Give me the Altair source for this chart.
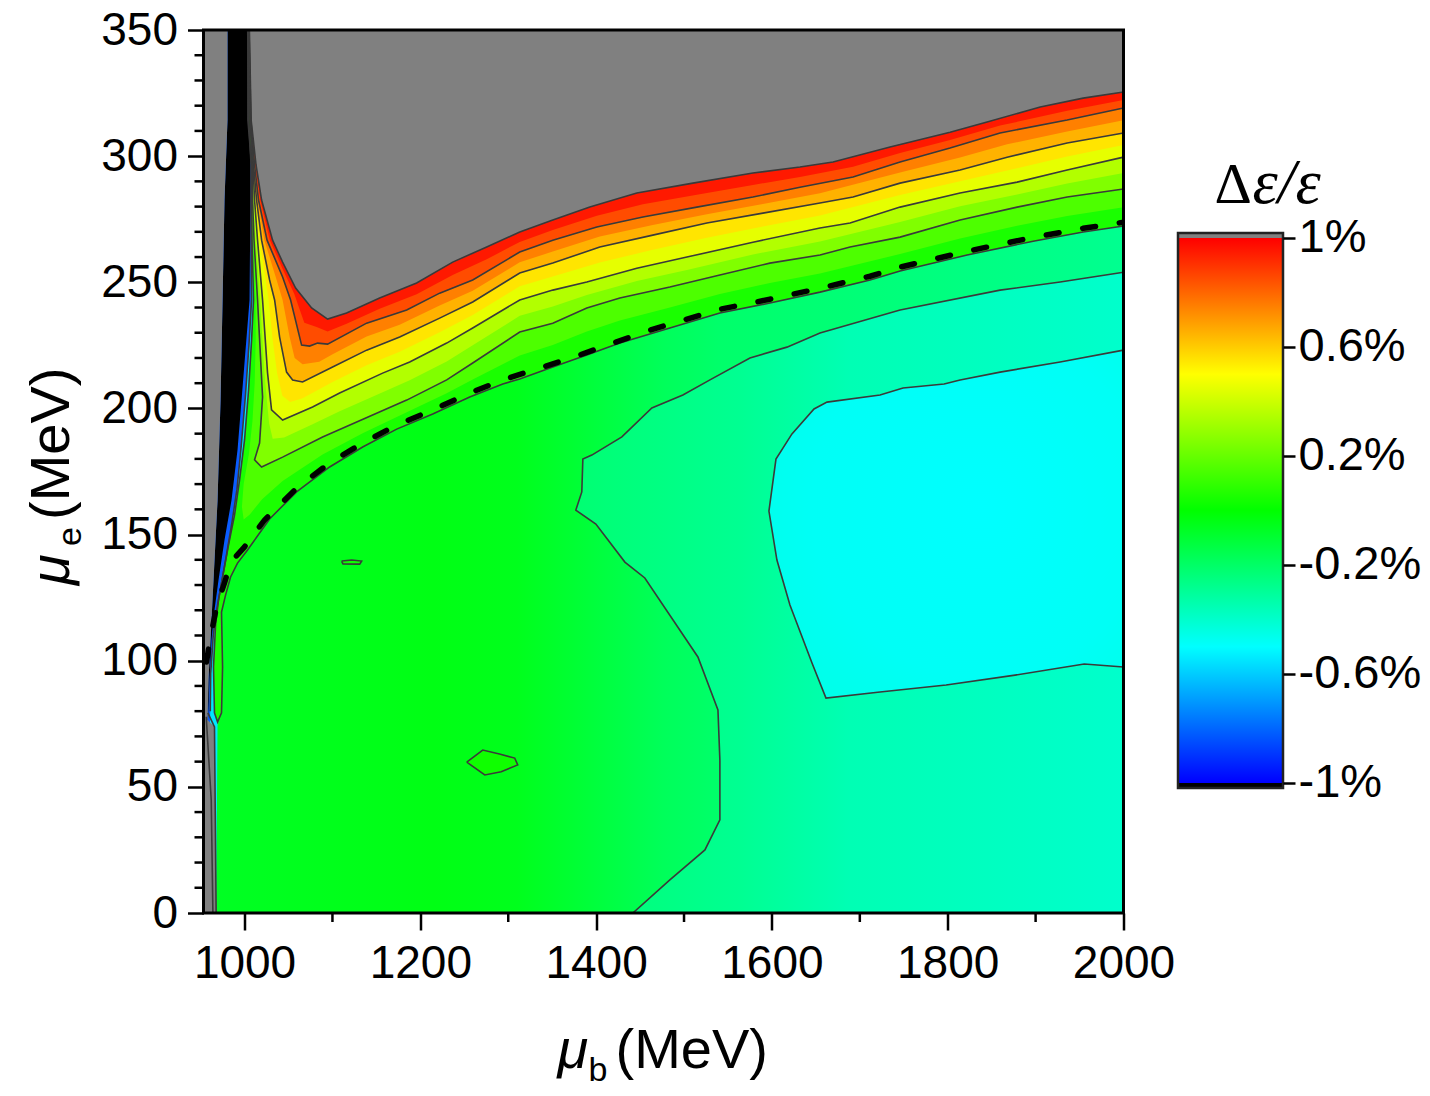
import altair as alt
import pandas as pd

# ---------------------------------------------------------------- axes
MB_RANGE = [953.3, 2000.0]          # mu_b (MeV)
ME_RANGE = [0.0, 350.0]             # mu_e (MeV)
MB_TICKS = [1000, 1200, 1400, 1600, 1800, 2000]
MB_MINOR = [1100, 1300, 1500, 1700, 1900]
ME_TICKS = [0, 50, 100, 150, 200, 250, 300, 350]
ME_MINOR = [10, 20, 30, 40, 60, 70, 80, 90, 110, 120, 130, 140, 160, 170, 180,
            190, 210, 220, 230, 240, 260, 270, 280, 290, 310, 320, 330, 340]
CB_TICKS = [-1.0, -0.6, -0.2, 0.2, 0.6, 1.0]   # colour-bar ticks, Δε/ε in %

# colour map of Δε/ε (%)
CMAP_LEVELS = [-1.0, -0.5, 0.0, 0.5, 1.0]
CMAP_COLORS = ["#0000ff", "#00ffff", "#00ff00", "#ffff00", "#ff0000"]
ABOVE_COLOR = "#808080"    # Δε/ε > 1 %
BELOW_COLOR = "#000000"    # Δε/ε < -1 %

# ---------------------------------------------------------------- contours
# each level traced from the top of the plot, down its left branch and out to mu_b = 2000
lvl_100_mb = [1005.5, 1007.5, 1013.1, 1019.4, 1031.9, 1043.3, 1058.1, 1076.3, 1094.5, 1116.1, 1153.7, 1195.8, 1236.8, 1275.5,
              1313.1, 1350.7, 1392.8, 1446.3, 1510.1, 1578.4, 1631.9, 1669.5, 1734.4, 1802.7, 1844.8, 1905.2, 1954.1, 2000.0]
lvl_100_me = [350.0, 314.3, 296.5, 282.6, 266.7, 258.0, 247.7, 239.8, 235.4, 237.8, 243.8, 249.7, 258.0, 264.0,
              269.9, 274.7, 279.8, 285.4, 289.3, 293.3, 295.7, 297.7, 303.6, 309.5, 313.5, 319.5, 323.0, 325.4]

lvl_090_mb = [1005.3, 1007.4, 1012.3, 1017.7, 1028.8, 1043.7, 1056.5, 1068.0, 1082.0, 1094.5, 1116.1, 1153.7, 1195.8, 1236.8,
              1275.5, 1313.1, 1350.7, 1400.8, 1453.2, 1514.6, 1578.4, 1631.9, 1692.3, 1745.8, 1802.7, 1859.6, 1935.9, 2000.0]
lvl_090_me = [350.0, 314.3, 296.5, 282.6, 266.7, 255.0, 245.5, 234.0, 232.3, 230.5, 233.6, 239.5, 245.3, 252.9,
              259.1, 266.0, 270.7, 276.4, 280.9, 284.7, 288.6, 291.7, 295.8, 301.2, 306.4, 312.1, 318.0, 322.3]

lvl_080_mb = [1005.1, 1007.2, 1011.4, 1015.9, 1025.6, 1043.3, 1052.4, 1064.9, 1074.0, 1083.1, 1094.5, 1138.9, 1184.5, 1222.0,
              1259.6, 1313.1, 1350.7, 1400.8, 1453.2, 1514.6, 1578.4, 1631.9, 1692.3, 1745.8, 1802.7, 1859.6, 1935.9, 2000.0]
lvl_080_me = [350.0, 314.3, 296.5, 282.6, 266.7, 252.1, 243.0, 225.1, 224.7, 225.9, 225.5, 233.8, 239.0, 245.7,
              250.9, 262.0, 266.7, 271.9, 275.9, 279.8, 283.8, 287.7, 291.7, 297.7, 303.2, 309.2, 314.3, 319.1]

lvl_070_mb = [1004.9, 1007.0, 1010.8, 1014.8, 1022.5, 1036.5, 1043.3, 1051.3, 1057.0, 1066.0, 1085.0, 1100.2, 1138.9, 1176.5,
              1222.0, 1259.6, 1313.1, 1350.7, 1404.2, 1464.5, 1526.0, 1589.8, 1654.7, 1745.8, 1814.1, 1867.6, 1935.9, 2000.0]
lvl_070_me = [350.0, 314.3, 296.5, 282.6, 266.7, 250.9, 243.0, 228.3, 220.0, 217.5, 218.5, 221.5, 228.5, 233.2,
              240.8, 246.6, 257.9, 262.2, 268.1, 272.7, 277.0, 281.0, 285.3, 293.5, 299.5, 304.7, 309.8, 314.2]

lvl_060_mb = [1004.8, 1006.9, 1010.2, 1013.7, 1019.4, 1028.5, 1034.2, 1039.9, 1047.8, 1054.7, 1066.0, 1100.2, 1138.9, 1176.5,
              1222.0, 1259.6, 1313.1, 1350.7, 1404.2, 1464.5, 1526.0, 1589.8, 1654.7, 1692.3, 1745.8, 1814.1, 1867.6, 1935.9, 2000.0]
lvl_060_me = [350.0, 314.3, 296.5, 282.6, 266.7, 250.9, 243.0, 228.3, 214.4, 211.3, 210.5, 216.4, 223.1, 228.3,
              235.8, 242.2, 253.7, 257.6, 264.0, 268.7, 273.5, 277.4, 281.4, 283.8, 289.3, 294.5, 299.6, 305.2, 309.2]

lvl_050_mb = [1004.6, 1006.8, 1010.0, 1012.5, 1017.1, 1027.4, 1031.6, 1037.0, 1043.0, 1052.0, 1066.0, 1100.2, 1138.9, 1176.5,
              1222.0, 1259.6, 1313.1, 1350.7, 1404.2, 1464.5, 1526.0, 1589.8, 1654.7, 1745.8, 1814.1, 1867.6, 1935.9, 2000.0]
lvl_050_me = [350.0, 314.3, 296.5, 282.6, 266.7, 243.0, 228.3, 214.0, 205.0, 202.5, 204.0, 210.5, 217.1, 222.5,
              230.2, 237.0, 248.4, 252.3, 257.8, 262.9, 267.7, 272.1, 276.5, 284.6, 290.0, 294.3, 299.9, 304.4]

lvl_040_mb = [1004.4, 1006.6, 1009.6, 1011.4, 1014.8, 1020.5, 1026.2, 1030.7, 1043.3, 1077.4, 1108.2, 1157.1, 1187.9, 1230.0,
              1259.6, 1313.1, 1350.7, 1389.4, 1446.3, 1503.3, 1578.4, 1654.7, 1688.9, 1745.8, 1814.1, 1879.0, 1935.9, 2000.0]
lvl_040_me = [350.0, 314.3, 296.5, 282.6, 266.7, 243.0, 214.0, 199.4, 195.4, 200.6, 206.1, 214.0, 218.4, 225.9,
              231.9, 243.0, 246.9, 250.1, 255.6, 260.0, 265.9, 271.5, 273.5, 279.8, 285.4, 289.7, 294.5, 299.6]

lvl_030_mb = [1004.3, 1006.5, 1009.2, 1010.2, 1012.8, 1017.7, 1022.6, 1025.5, 1028.0, 1032.0, 1045.0, 1077.4, 1108.2, 1157.1,
              1187.9, 1230.0, 1259.6, 1313.1, 1350.7, 1389.4, 1446.3, 1503.3, 1578.4, 1654.7, 1745.8, 1814.1, 1879.0, 1935.9, 2000.0]
lvl_030_me = [350.0, 314.3, 296.5, 282.6, 266.7, 243.0, 214.0, 203.0, 194.0, 188.0, 188.5, 193.7, 198.9, 206.4,
              211.2, 218.6, 225.0, 236.7, 240.4, 245.0, 250.5, 254.9, 261.0, 266.2, 273.9, 280.1, 284.8, 289.2, 293.3]

lvl_020_mb = [1004.1, 1006.3, 1008.8, 1009.1, 1010.8, 1014.8, 1020.5, 1017.1, 1011.4, 1019.4, 1043.3, 1088.8, 1145.7, 1184.5,
              1230.0, 1259.6, 1313.1, 1350.7, 1389.4, 1427.0, 1483.9, 1540.8, 1597.7, 1654.7, 1688.9, 1745.8, 1814.1, 1879.0,
              1935.9, 2000.0]
lvl_020_me = [350.0, 314.3, 296.5, 282.6, 266.7, 243.0, 204.5, 186.3, 179.6, 176.8, 180.7, 188.7, 197.4, 203.3,
              211.3, 218.0, 230.3, 233.8, 239.8, 243.8, 248.1, 252.9, 257.6, 260.8, 264.0, 267.9, 274.7, 279.8,
              283.8, 287.0]

lvl_010_mb = [1004.0, 1005.0, 1008.4, 1008.6, 1009.6, 1012.5, 1012.7, 1011.5, 1009.0, 1005.0, 999.0, 997.0, 999.0, 1006.0,
              1020.0, 1043.3, 1088.8, 1134.4, 1184.5, 1230.0, 1259.6, 1313.1, 1350.7, 1389.4, 1427.0, 1483.9, 1540.8,
              1597.7, 1654.7, 1745.8, 1814.1, 1879.0, 1935.9, 2000.0]
lvl_010_me = [350.0, 314.3, 296.5, 282.6, 266.7, 243.0, 227.0, 210.0, 195.0, 182.0, 170.0, 161.0, 156.0, 158.0,
              164.0, 171.2, 181.7, 190.2, 198.5, 206.0, 211.5, 221.0, 225.1, 230.5, 234.9, 240.0, 245.4,
              249.7, 253.5, 261.2, 267.4, 272.4, 276.3, 279.7]

lvl_000_mb = [1003.8, 1003.8, 1008.0, 1008.0, 1008.5, 1010.2, 1008.0, 1004.6, 1000.0, 994.3, 988.6, 981.8, 976.1, 970.4,
              967.0, 964.7, 965.8, 969.3, 973.8, 975.0, 973.8, 978.4, 984.1, 992.0, 1003.4, 1028.5, 1059.2, 1096.8,
              1134.4, 1173.1, 1214.1, 1256.2, 1293.8, 1313.1, 1350.7, 1389.4, 1427.0, 1483.9, 1540.8, 1597.7, 1654.7,
              1711.6, 1745.8, 1822.1, 1897.2, 1954.1, 2000.0]
lvl_000_me = [350.0, 314.3, 296.5, 282.6, 266.7, 243.0, 227.1, 207.3, 187.5, 171.6, 157.7, 145.9, 135.2, 124.1,
              114.1, 97.5, 79.3, 75.7, 79.3, 97.5, 119.3, 126.0, 133.2, 138.7, 143.9, 156.2, 166.9, 176.8,
              184.7, 191.8, 197.8, 204.5, 209.7, 211.7, 216.4, 221.2, 225.9, 231.9, 237.8, 241.8, 246.1,
              250.9, 254.5, 260.8, 266.3, 269.9, 272.3]

# Δε/ε = -0.5 % line inside the narrow band next to the black strip
lvl_m050_mb = [1003.6, 1004.8, 1007.4, 1007.4, 1007.4, 1008.0, 1005.0, 1001.0, 996.2, 991.4, 985.8, 979.5, 973.9,
               968.2, 964.4, 961.5, 961.0]
lvl_m050_me = [350.0, 314.3, 296.5, 282.6, 266.7, 243.0, 225.0, 205.0, 185.0, 168.0, 155.0, 142.0, 131.0,
               120.0, 110.0, 95.0, 80.0]

# small closed Δε/ε = 0 islands inside the green plain
isl_a_mb = [1110.4, 1122.0, 1133.2, 1131.0, 1112.0, 1110.4]
isl_a_me = [139.5, 139.9, 139.5, 138.3, 138.4, 139.5]
isl_b_mb = [1252.8, 1271.0, 1290.0, 1307.4, 1310.8, 1292.0, 1273.3, 1252.8]
isl_b_me = [59.8, 64.6, 63.0, 61.4, 58.7, 56.0, 54.7, 59.8]

# negative levels on the right-hand side
neg020_mb = [1441.8, 1483.9, 1523.8, 1540.8, 1540.8, 1538.6, 1515.8, 1455.4, 1432.7, 1399.7, 1376.9, 1383.7, 1384.9,
             1395.1, 1429.3, 1463.4, 1498.7, 1529.5, 1575.0, 1617.1, 1654.7, 1745.8, 1859.6, 1927.9, 2000.0]
neg020_me = [0.0, 13.1, 25.0, 36.9, 60.6, 80.5, 101.5, 132.8, 139.1, 154.2, 159.7, 166.9, 179.9,
             181.5, 188.7, 200.2, 205.3, 211.3, 220.0, 224.3, 229.9, 239.0, 246.9, 250.1, 254.0]
neg040_mb = [2000.0, 1927.9, 1859.6, 1814.1, 1795.9, 1749.2, 1723.0, 1662.7, 1647.9, 1622.8, 1604.6, 1596.6, 1605.7,
             1620.5, 1645.6, 1661.5, 1723.0, 1798.2, 1876.7, 1955.3, 2000.0]
neg040_me = [223.1, 218.4, 214.4, 211.3, 209.7, 208.1, 205.3, 202.5, 199.8, 189.9, 179.9, 159.3, 139.9,
             122.1, 99.1, 85.2, 87.6, 90.4, 94.3, 98.7, 97.5]

# strip of Δε/ε < -1 % near mu_b ≈ 1000 MeV (left edge, then right edge bottom-up)
black_mb = [980.6, 980.6, 977.2, 975.0, 972.7, 969.3, 964.7, 962.4, 959.0, 957.9, 958.4, 960.1, 962.4, 965.8, 970.4,
            977.2, 985.2, 992.0, 996.6, 1001.1, 1005.7, 1006.3, 1006.8, 1006.8, 1005.7, 1003.4]
black_me = [350.0, 314.3, 282.6, 243.0, 203.3, 163.7, 132.0, 116.1, 92.3, 76.5, 76.5, 92.3, 108.2, 120.1, 132.0,
            147.8, 163.7, 183.5, 203.3, 223.1, 243.0, 266.7, 282.6, 296.5, 314.3, 350.0]
# right edge of the Δε/ε > 1 % strip along the left border, top-down
gray_left_mb = [980.6, 980.6, 977.2, 975.0, 972.7, 969.3, 964.7, 962.4, 959.0, 957.9, 965.8, 967.7]
gray_left_me = [350.0, 314.3, 282.6, 243.0, 203.3, 163.7, 132.0, 116.1, 92.3, 76.5, 73.8, 0.0]
# contour lines running into the bottom axis
edge_a_mb = [958.3, 965.8, 967.7]
edge_a_me = [79.3, 73.8, 0.0]
edge_b_mb = [956.4, 962.1, 964.0]
edge_b_me = [77.8, 44.8, 0.0]

# dashed boundary curve
dash_mb = [956.7, 960.1, 965.8, 969.3, 977.2, 980.6, 988.6, 1000.0, 1022.8, 1034.2, 1059.2, 1096.8, 1134.4, 1173.1,
           1214.1, 1256.2, 1293.8, 1335.9, 1378.0, 1419.0, 1461.1, 1483.9, 1540.8, 1597.7, 1654.7, 1711.6, 1745.8,
           1822.1, 1897.2, 1954.1, 2000.0]
dash_me = [99.5, 107.0, 117.3, 122.9, 130.8, 134.8, 140.7, 145.1, 155.8, 159.7, 168.4, 178.4, 186.3, 193.4,
           199.4, 206.1, 211.3, 216.0, 220.8, 225.9, 231.0, 233.4, 239.3, 243.3, 247.6, 252.4, 256.0,
           262.3, 267.8, 271.4, 273.8]

# ---------------------------------------------------------------- helpers
W, H = 920, 883
FONT = "Liberation Sans"
LINE = "#3a3a3a"

x_scale = alt.Scale(domain=MB_RANGE, nice=False, zero=False)
y_scale = alt.Scale(domain=ME_RANGE, nice=False, zero=False)


def hex_mix(c1, c2, t):
    a = [int(c1[i:i + 2], 16) for i in (1, 3, 5)]
    b = [int(c2[i:i + 2], 16) for i in (1, 3, 5)]
    return "#" + "".join(f"{round(p + (q - p) * t):02x}" for p, q in zip(a, b))


def cmap(v):
    for k in range(len(CMAP_LEVELS) - 1):
        lo, hi = CMAP_LEVELS[k], CMAP_LEVELS[k + 1]
        if lo <= v <= hi:
            return hex_mix(CMAP_COLORS[k], CMAP_COLORS[k + 1], (v - lo) / (hi - lo))
    return CMAP_COLORS[-1] if v > 0 else CMAP_COLORS[0]


def path_df(mb, me, extra=()):
    xs = list(mb) + [p[0] for p in extra]
    ys = list(me) + [p[1] for p in extra]
    return pd.DataFrame({"mb": xs, "me": ys, "i": list(range(len(xs)))})


def enc(ch):
    return ch.encode(
        x=alt.X("mb:Q", scale=x_scale, title=None),
        y=alt.Y("me:Q", scale=y_scale, title=None),
        order="i:Q",
    )


def polygon(df, fill):
    return enc(alt.Chart(df).mark_line(fill=fill, strokeOpacity=0, interpolate="linear", clip=True))


def contour(df, width=1.6, color=LINE, dash=None):
    kw = dict(color=color, strokeWidth=width, interpolate="linear", clip=True)
    if dash:
        kw.update(strokeDash=dash, strokeCap="round")
    return enc(alt.Chart(df).mark_line(**kw))


def grad(stops, horizontal=True):
    return alt.LinearGradient(
        gradient="linear",
        stops=[alt.GradientStop(color=c, offset=o) for o, c in stops],
        x1=0, y1=1 if not horizontal else 0, x2=1 if horizontal else 0, y2=0,
    )


TOP_RIGHT = [(MB_RANGE[1], ME_RANGE[1])]

# ---------------------------------------------------------------- field
base = alt.Chart(pd.DataFrame({"mb": [MB_RANGE[0]], "mb2": [MB_RANGE[1]],
                               "me": [ME_RANGE[0]], "me2": [ME_RANGE[1]]})).mark_rect(
    fill=grad([(0.0, "#00ff24"), (0.25, "#00ff14"), (0.34, "#00ff1c"), (0.40, "#00ff32"),
               (0.50, "#00ff5a"), (0.56, "#00ff6a"), (1.0, "#00ff90")])
).encode(
    x=alt.X("mb:Q", scale=x_scale, title=None,
            axis=alt.Axis(values=MB_TICKS, format="d", tickSize=17, tickWidth=2.5, tickColor="black",
                          labelFont=FONT, labelFontSize=46, labelColor="black", labelPadding=11,
                          labelFlush=False, labelOverlap=False, domain=False, grid=False, zindex=3)),
    x2="mb2:Q",
    y=alt.Y("me:Q", scale=y_scale, title=None,
            axis=alt.Axis(values=ME_TICKS, format="d", tickSize=16, tickWidth=2.5, tickColor="black",
                          labelFont=FONT, labelFontSize=46, labelColor="black", labelPadding=10,
                          labelFlush=False, labelOverlap=False, domain=False, grid=False, zindex=3)),
    y2="me2:Q",
)

layers = [base]
layers.append(polygon(path_df(neg020_mb, neg020_me, [(MB_RANGE[1], 0.0)]),
                      grad([(0.0, "#00ff72"), (0.3, "#00ff92"), (0.5, "#00ffb4"), (1.0, "#00ffcc")])))
layers.append(polygon(path_df(neg040_mb, neg040_me),
                      alt.RadialGradient(gradient="radial",
                                         stops=[alt.GradientStop(color="#00ffff", offset=0.0),
                                                alt.GradientStop(color="#00fff6", offset=0.6),
                                                alt.GradientStop(color="#00ffe2", offset=1.0)],
                                         x1=0.6, y1=0.45, r1=0, x2=0.6, y2=0.45, r2=0.8)))

# narrow negative band squeezed along the left strip: cyan side, then blue side
strip_mb = [MB_RANGE[0]] + lvl_000_mb[:18] + [967.7, MB_RANGE[0]]
strip_me = [350.0] + lvl_000_me[:18] + [0.0, 0.0]
layers.append(polygon(path_df(strip_mb, strip_me), "#00e6ff"))
layers.append(polygon(path_df([MB_RANGE[0]] + lvl_m050_mb + [MB_RANGE[0]],
                              [350.0] + lvl_m050_me + [0.0]), "#0a5cff"))

# superlevel regions, painted from the lowest level upwards
super_levels = [
    (0.0, lvl_000_mb, lvl_000_me), (0.1, lvl_010_mb, lvl_010_me), (0.2, lvl_020_mb, lvl_020_me),
    (0.3, lvl_030_mb, lvl_030_me), (0.4, lvl_040_mb, lvl_040_me), (0.5, lvl_050_mb, lvl_050_me),
    (0.6, lvl_060_mb, lvl_060_me), (0.7, lvl_070_mb, lvl_070_me), (0.8, lvl_080_mb, lvl_080_me),
    (0.9, lvl_090_mb, lvl_090_me), (1.0, lvl_100_mb, lvl_100_me),
]
for lev, mb, me in super_levels:
    color = ABOVE_COLOR if lev >= 1.0 else cmap(lev + 0.05)
    layers.append(polygon(path_df(mb, me, TOP_RIGHT), color))

layers.append(polygon(path_df(isl_a_mb, isl_a_me), cmap(0.03)))
layers.append(polygon(path_df(isl_b_mb, isl_b_me), cmap(0.03)))

layers.append(polygon(path_df(black_mb, black_me), BELOW_COLOR))
layers.append(polygon(path_df([MB_RANGE[0]] + gray_left_mb + [MB_RANGE[0]],
                              [350.0] + gray_left_me + [0.0]), ABOVE_COLOR))

# drawn contour lines
for mb, me in [(lvl_100_mb, lvl_100_me), (lvl_080_mb, lvl_080_me), (lvl_060_mb, lvl_060_me),
               (lvl_040_mb, lvl_040_me), (lvl_020_mb, lvl_020_me), (lvl_000_mb, lvl_000_me),
               (lvl_m050_mb, lvl_m050_me),
               (neg020_mb, neg020_me), (neg040_mb, neg040_me), (isl_a_mb, isl_a_me),
               (isl_b_mb, isl_b_me), (edge_a_mb, edge_a_me), (edge_b_mb, edge_b_me)]:
    layers.append(contour(path_df(mb, me)))

layers.append(contour(path_df(dash_mb, dash_me), width=5.5, color="black", dash=[13, 24]))

# minor ticks
layers.append(alt.Chart(pd.DataFrame({"mb": MB_MINOR})).mark_rule(color="black", strokeWidth=2.5, clip=False).encode(
    x=alt.X("mb:Q", scale=x_scale, title=None), y=alt.value(H), y2=alt.value(H + 9)))
layers.append(alt.Chart(pd.DataFrame({"me": ME_MINOR})).mark_rule(color="black", strokeWidth=2.5, clip=False).encode(
    y=alt.Y("me:Q", scale=y_scale, title=None), x=alt.value(-9), x2=alt.value(0)))

# plot frame
layers.append(alt.Chart(pd.DataFrame({"mb": [MB_RANGE[0]], "mb2": [MB_RANGE[1]],
                                      "me": [ME_RANGE[0]], "me2": [ME_RANGE[1]]})).mark_rect(
    fillOpacity=0, stroke="black", strokeWidth=3).encode(
    x=alt.X("mb:Q", scale=x_scale, title=None), x2="mb2:Q",
    y=alt.Y("me:Q", scale=y_scale, title=None), y2="me2:Q"))

field = alt.layer(*layers)

# ---------------------------------------------------------------- colour bar
CB_DOMAIN = [-1.4771, 1.7633]
CB_CAP = 0.018
CB_X0, CB_X1 = 974.5, 1079.5
cb_scale = alt.Scale(domain=CB_DOMAIN, nice=False, zero=False)


def cb_rect(lo, hi, **mark):
    return alt.Chart(pd.DataFrame({"lo": [lo], "hi": [hi]})).mark_rect(**mark).encode(
        y=alt.Y("lo:Q", scale=cb_scale, title=None), y2="hi:Q",
        x=alt.value(CB_X0), x2=alt.value(CB_X1))


cb_main = alt.Chart(pd.DataFrame({"lo": [CMAP_LEVELS[0]], "hi": [CMAP_LEVELS[-1]]})).mark_rect(
    fill=grad([((v - CMAP_LEVELS[0]) / (CMAP_LEVELS[-1] - CMAP_LEVELS[0]), c)
               for v, c in zip(CMAP_LEVELS, CMAP_COLORS)], horizontal=False)
).encode(
    y=alt.Y("lo:Q", scale=cb_scale, title=None,
            axis=alt.Axis(orient="right", offset=CB_X1 - W, values=CB_TICKS,
                          labelExpr="datum.value + '%'", tickSize=12, tickWidth=2.5, tickColor="black",
                          labelFont=FONT, labelFontSize=47, labelColor="black", labelPadding=3,
                          labelFlush=False, labelOverlap=False, domain=False, grid=False, zindex=3)),
    y2="hi:Q", x=alt.value(CB_X0), x2=alt.value(CB_X1))

colorbar = alt.layer(
    cb_main,
    cb_rect(1.0, 1.0 + CB_CAP, fill=ABOVE_COLOR),
    cb_rect(-1.0 - CB_CAP, -1.0, fill=BELOW_COLOR),
    cb_rect(-1.0 - CB_CAP, 1.0 + CB_CAP, fillOpacity=0, stroke="#222222", strokeWidth=2.5),
)


# ---------------------------------------------------------------- titles
def label(text, x, y, size, **kw):
    return alt.Chart(pd.DataFrame({"t": [text]})).mark_text(
        fontSize=size, color="black", align="left", baseline="alphabetic", **kw
    ).encode(text="t:N", x=alt.value(x), y=alt.value(y))


titles = [
    label("μ", 354, 1038, 56, font=FONT, fontStyle="italic"),
    label("b", 385, 1051, 34, font=FONT),
    label("(MeV)", 412, 1038, 56, font=FONT),
    label("μ", -135, 555, 56, font=FONT, fontStyle="italic", angle=270),
    label("e", -123, 516, 34, font=FONT, angle=270),
    label("(MeV)", -135, 490, 56, font=FONT, angle=270),
    label("Δ", 1011, 173, 58, font="Liberation Serif"),
    label("ε/ε", 1049, 173, 64, font="Liberation Serif", fontStyle="italic"),
]

chart = alt.layer(field, colorbar, *titles).resolve_scale(y="independent").properties(
    width=W, height=H,
    padding={"left": 203.5, "top": 30, "right": 306.5, "bottom": 183},
    autosize=alt.AutoSizeParams(type="none"),
).configure_view(stroke=None)

chart.save("out.html", embed_options={"renderer": "svg", "actions": False})
